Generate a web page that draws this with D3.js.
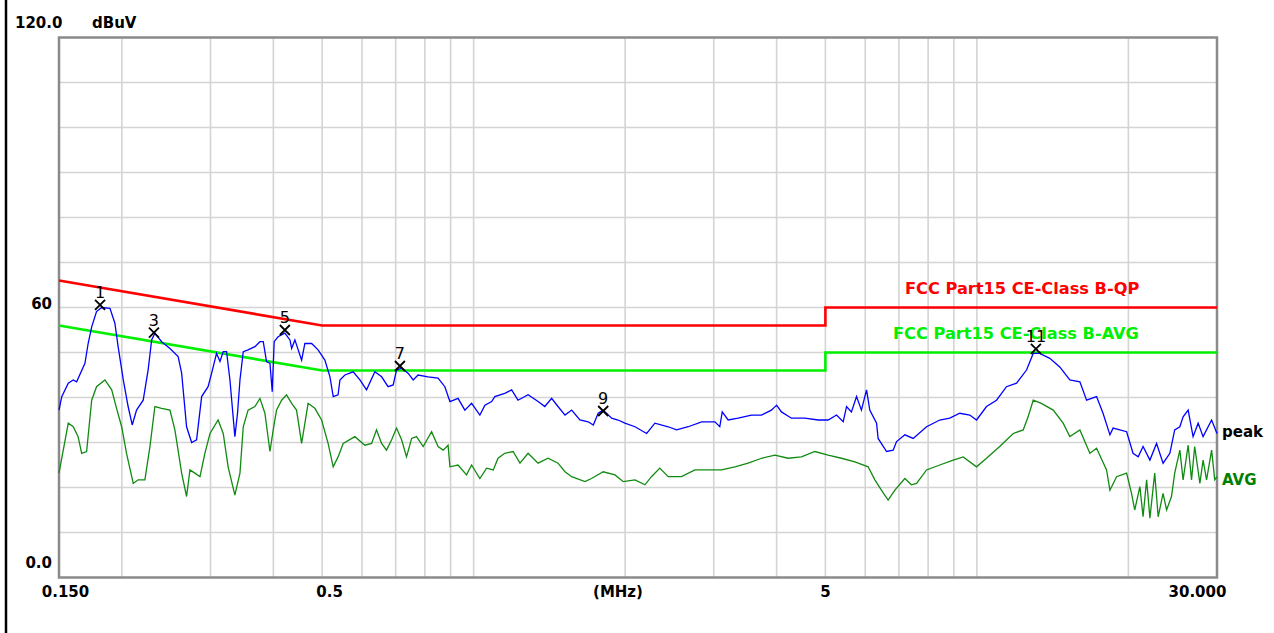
<!DOCTYPE html>
<html>
<head>
<meta charset="utf-8">
<script src="https://cdn.jsdelivr.net/npm/d3@7"></script>
<style>
body { margin: 0; background: #fff; }
svg { display: block; font-family: "DejaVu Sans", sans-serif; }
</style>
</head>
<body>
<svg id="chart" width="1274" height="633"></svg>
<script>
// peak trace (MHz, dBuV)
var peakFreq = [0.150,0.1519,0.1565,0.1601,0.1626,0.1689,0.1714,0.1742,0.1781,0.1824,0.1894,0.1937,0.1966,0.2013,0.2058,0.2097,0.2139,0.2205,0.2255,0.2292,
  0.2326,0.2399,0.2492,0.2587,0.2629,0.2689,0.2752,0.2815,0.2881,0.2967,0.3016,0.3084,0.3133,0.3180,0.3229,0.3279,0.3354,0.3395,0.3433,0.3485,
  0.3563,0.3676,0.3762,0.3819,0.3877,0.3938,0.3979,0.4015,0.4087,0.4216,0.4315,0.4349,0.4414,0.4552,0.4620,0.4765,0.4908,0.5063,0.5182,0.5260,
  0.5378,0.5424,0.5548,0.5763,0.5944,0.6126,0.6364,0.6564,0.6760,0.6921,0.7027,0.7193,0.7408,0.7584,0.7755,0.8118,0.8498,0.8766,0.8972,0.9312,
  0.9606,0.9908,1.029,1.053,1.086,1.102,1.153,1.190,1.225,1.283,1.343,1.385,1.429,1.471,1.519,1.566,1.626,1.689,1.729,1.768,
  1.809,1.880,1.937,1.998,2.092,2.207,2.292,2.435,2.531,2.669,2.838,3.016,3.084,3.119,3.204,3.354,3.565,3.734,3.906,3.999,
  4.089,4.280,4.552,4.836,5.063,5.262,5.424,5.508,5.632,5.766,5.896,6.036,6.126,6.319,6.364,6.615,6.818,6.924,7.193,7.472,
  7.943,8.438,8.832,9.246,9.679,9.984,10.45,10.94,11.45,11.99,12.55,12.94,13.33,13.96,14.61,15.30,16.02,16.52,17.29,17.81,
  18.38,18.65,19.84,20.43,20.92,21.39,22.07,22.75,23.44,24.18,24.72,25.31,25.69,26.29,26.89,27.52,28.15,29.27,30.0];
var peakLevel = [37.2,40.2,43.2,43.9,43.5,47.6,52.0,55.7,59.1,60.0,59.8,56.5,51.3,43.9,38.0,33.9,37.2,39.4,46.1,52.8,
  54.3,52.4,50.9,49.1,45.4,33.5,30.0,30.6,40.2,42.4,45.4,49.8,48.0,50.2,50.2,43.9,31.3,36.5,43.9,50.2,
  50.6,51.3,52.4,52.4,48.0,47.6,41.3,52.4,53.5,54.3,52.8,50.9,52.8,48.3,52.0,52.0,50.6,48.3,44.6,40.2,
  40.6,43.9,45.0,45.7,43.9,41.7,45.7,44.6,42.4,42.8,46.1,46.5,45.4,43.9,45.0,44.6,44.3,42.4,39.1,39.8,
  37.2,38.7,36.1,38.3,39.1,40.2,40.9,41.7,39.4,40.6,39.1,38.0,39.8,38.0,36.1,37.2,35.0,34.6,33.9,36.5,
  37.2,35.4,35.0,34.3,33.5,32.0,34.3,33.5,32.8,33.5,34.6,34.6,33.5,36.8,35.0,35.4,36.1,36.1,37.2,38.3,
  36.8,35.4,35.4,35.0,35.0,36.1,34.6,38.0,36.8,40.2,37.2,41.7,37.2,34.3,30.9,28.0,28.3,30.2,31.7,30.9,
  33.5,35.0,35.4,36.5,36.1,35.0,38.0,39.4,42.4,43.2,46.1,49.8,49.8,48.7,46.8,43.9,43.5,39.4,40.2,36.5,
  31.7,33.2,32.4,27.6,26.8,29.1,26.1,29.8,25.4,27.6,32.8,33.5,35.7,37.2,31.3,34.3,31.3,35.0,32.0];

// average trace (MHz, dBuV)
var avgFreq = [0.150,0.1565,0.1601,0.1637,0.1664,0.1702,0.1742,0.1781,0.1851,0.1909,0.1952,0.1998,0.2043,0.2107,0.2154,0.2222,0.2274,0.2326,0.2399,0.2492,
  0.2549,0.2629,0.2689,0.2731,0.2793,0.2859,0.2924,0.2993,0.3106,0.3180,0.3252,0.3354,0.3433,0.3485,0.3563,0.3676,0.3762,0.3848,0.3938,0.3997,
  0.4058,0.4154,0.4248,0.4349,0.4447,0.4552,0.4689,0.4836,0.4988,0.5138,0.5260,0.5378,0.5506,0.5808,0.6080,0.6270,0.6412,0.6564,0.6712,0.6871,
  0.7027,0.7193,0.7356,0.7530,0.7700,0.7939,0.8251,0.8498,0.8699,0.8896,0.8972,0.9312,0.9679,0.9908,1.029,1.061,1.094,1.118,1.153,1.198,
  1.236,1.283,1.343,1.406,1.471,1.519,1.566,1.664,1.715,1.809,1.909,1.983,2.092,2.190,2.256,2.344,2.435,2.588,2.752,2.924,
  3.108,3.305,3.511,3.734,3.969,4.216,4.481,4.765,5.063,5.380,5.722,6.080,6.270,6.461,6.662,6.871,7.193,7.411,7.588,7.943,
  8.438,8.972,9.392,9.984,10.45,11.10,11.81,12.36,12.64,12.94,13.43,14.18,14.84,15.30,16.02,16.77,17.29,18.10,18.38,18.95,
  19.84,20.29,20.59,21.08,21.39,21.74,22.07,22.56,22.92,23.44,23.82,24.36,24.72,25.31,25.69,26.29,26.70,27.09,27.74,28.15,
  28.60,29.27,29.69,30.0];
var avgLevel = [23.2,34.3,33.5,31.3,27.6,28.0,39.4,42.4,43.9,41.7,37.6,33.5,27.6,20.9,21.7,21.7,29.1,38.0,37.6,37.2,
  32.8,23.2,18.0,23.9,23.2,22.4,27.6,32.0,35.0,32.0,24.6,18.3,23.2,33.5,37.2,38.0,39.8,36.5,28.0,32.8,
  37.2,39.4,40.6,38.7,37.2,29.8,38.7,37.6,35.0,29.8,24.6,26.8,29.8,31.3,29.4,29.8,32.8,29.8,28.3,30.6,
  33.2,30.6,26.8,30.9,31.3,29.1,32.4,29.1,28.3,29.4,24.6,25.0,22.8,25.0,22.0,24.3,23.9,26.5,27.6,28.0,
  25.4,27.6,25.4,26.5,25.4,23.5,22.4,21.3,22.0,23.5,22.8,21.3,21.7,20.6,22.4,24.3,22.4,22.4,23.9,23.9,
  23.9,24.6,25.4,26.5,27.2,26.5,26.8,28.0,27.2,26.5,25.7,24.6,21.7,19.4,17.2,19.4,22.0,20.6,20.9,23.9,
  25.0,26.1,26.8,24.6,26.5,29.1,32.0,32.8,35.7,39.4,38.7,37.2,34.3,31.3,32.8,27.6,28.7,23.9,19.4,22.4,
  23.2,18.7,15.0,20.2,13.5,21.7,13.2,23.2,13.5,18.7,15.0,18.0,23.2,28.3,21.7,29.4,21.7,29.1,20.9,26.1,
  21.7,28.3,21.7,22.4];

// FCC Part 15 class B limits
var qpLimitFreq = [0.15, 0.5, 5, 5, 30];
var qpLimitLevel = [66, 56, 56, 60, 60];
var avgLimitFreq = [0.15, 0.5, 5, 5, 30];
var avgLimitLevel = [56, 46, 46, 50, 50];

// marked peaks
var markerNo = ["1", "3", "5", "7", "9", "11"];
var markerFreq = [0.181, 0.2316, 0.4216, 0.7137, 1.809, 13.10];
var markerLevel = [60.6, 54.4, 55.0, 47.0, 37.0, 50.8];

var xTickValues = [0.15, 0.5, 5, 30];
var xTickLabels = ["0.150", "0.5", "5", "30.000"];
var yTickValues = [120, 60, 0];
var yTickLabels = ["120.0", "60", "0.0"];

var svg = d3.select("#chart");

var x = d3.scaleLog().domain([0.15, 30]).range([59, 1217]);
var y = d3.scaleLinear().domain([0, 120]).range([577.5, 37.5]);

// black rule on the left of the sheet
svg.append("line")
    .attr("x1", 6).attr("x2", 6)
    .attr("y1", 0).attr("y2", 633)
    .attr("stroke", "#000")
    .attr("stroke-width", 2.5);

// grid
var grid = svg.append("g").attr("class", "grid")
    .attr("stroke", "#d4d4d4")
    .attr("stroke-width", 1.6);

grid.selectAll("line.v")
    .data(x.ticks().filter(function(d) { return d > 0.15 && d < 30; }))
    .enter().append("line")
    .attr("class", "v")
    .attr("x1", function(d) { return x(d); })
    .attr("x2", function(d) { return x(d); })
    .attr("y1", y(120))
    .attr("y2", y(0));

grid.selectAll("line.h")
    .data(y.ticks(12).filter(function(d) { return d > 0 && d < 120; }))
    .enter().append("line")
    .attr("class", "h")
    .attr("x1", x(0.15))
    .attr("x2", x(30))
    .attr("y1", function(d) { return y(d); })
    .attr("y2", function(d) { return y(d); });

// plot frame
svg.append("rect")
    .attr("x", x(0.15))
    .attr("y", y(120))
    .attr("width", x(30) - x(0.15))
    .attr("height", y(0) - y(120))
    .attr("fill", "none")
    .attr("stroke", "#8a8a8a")
    .attr("stroke-width", 2.5);

var line = d3.line()
    .x(function(d) { return x(d[0]); })
    .y(function(d) { return y(d[1]); });

// limit lines
svg.append("path")
    .datum(d3.zip(qpLimitFreq, qpLimitLevel))
    .attr("d", line)
    .attr("fill", "none")
    .attr("stroke", "#ff0000")
    .attr("stroke-width", 2.6);

svg.append("path")
    .datum(d3.zip(avgLimitFreq, avgLimitLevel))
    .attr("d", line)
    .attr("fill", "none")
    .attr("stroke", "#00f000")
    .attr("stroke-width", 2.6);

// measured traces
svg.append("path")
    .datum(d3.zip(avgFreq, avgLevel))
    .attr("d", line)
    .attr("fill", "none")
    .attr("stroke", "#118a11")
    .attr("stroke-width", 1.3);

svg.append("path")
    .datum(d3.zip(peakFreq, peakLevel))
    .attr("d", line)
    .attr("fill", "none")
    .attr("stroke", "#0000ff")
    .attr("stroke-width", 1.3);

// limit captions
svg.append("text")
    .attr("x", 905).attr("y", 294)
    .attr("fill", "#ff0000")
    .attr("font-size", 16.2).attr("font-weight", "bold")
    .text("FCC Part15 CE-Class B-QP");

svg.append("text")
    .attr("x", 893).attr("y", 339)
    .attr("fill", "#00f000")
    .attr("font-size", 16.2).attr("font-weight", "bold")
    .text("FCC Part15 CE-Class B-AVG");

// trace captions
svg.append("text")
    .attr("x", 1222).attr("y", 437)
    .attr("fill", "#000")
    .attr("font-size", 15).attr("font-weight", "bold")
    .text("peak");

svg.append("text")
    .attr("x", 1222).attr("y", 485)
    .attr("fill", "#008000")
    .attr("font-size", 15).attr("font-weight", "bold")
    .text("AVG");

// markers
var marks = svg.append("g").attr("class", "markers");
var mk = marks.selectAll("g")
    .data(d3.range(markerNo.length))
    .enter().append("g")
    .attr("transform", function(i) {
        return "translate(" + x(markerFreq[i]) + "," + y(markerLevel[i]) + ")";
    });
mk.append("path")
    .attr("d", "M-5,-5L5,5M-5,5L5,-5")
    .attr("stroke", "#000")
    .attr("stroke-width", 1.8);
mk.append("text")
    .attr("y", -7)
    .attr("text-anchor", "middle")
    .attr("font-size", 16)
    .attr("fill", "#000")
    .text(function(i) { return markerNo[i]; });

// axis labels
var yLab = svg.append("g")
    .attr("font-size", 15).attr("font-weight", "bold").attr("fill", "#000");
yLab.selectAll("text")
    .data(d3.range(yTickValues.length))
    .enter().append("text")
    .attr("x", function(i) { return i === 0 ? 15 : 52; })
    .attr("y", function(i) { return yTickValues[i] === 60 ? y(60) + 1.5 : y(yTickValues[i]) - 9.5; })
    .attr("text-anchor", function(i) { return i === 0 ? "start" : "end"; })
    .text(function(i) { return yTickLabels[i]; });
yLab.append("text")
    .attr("x", 92).attr("y", y(120) - 9.5)
    .text("dBuV");

var xLab = svg.append("g")
    .attr("font-size", 15).attr("font-weight", "bold").attr("fill", "#000");
var xShift = [6.5, 7.5, 0, -19.5];
xLab.selectAll("text")
    .data(d3.range(xTickValues.length))
    .enter().append("text")
    .attr("x", function(i) { return x(xTickValues[i]) + xShift[i]; })
    .attr("y", 597)
    .attr("text-anchor", "middle")
    .text(function(i) { return xTickLabels[i]; });
xLab.append("text")
    .attr("x", 618).attr("y", 597)
    .attr("text-anchor", "middle")
    .text("(MHz)");
</script>
</body>
</html>
